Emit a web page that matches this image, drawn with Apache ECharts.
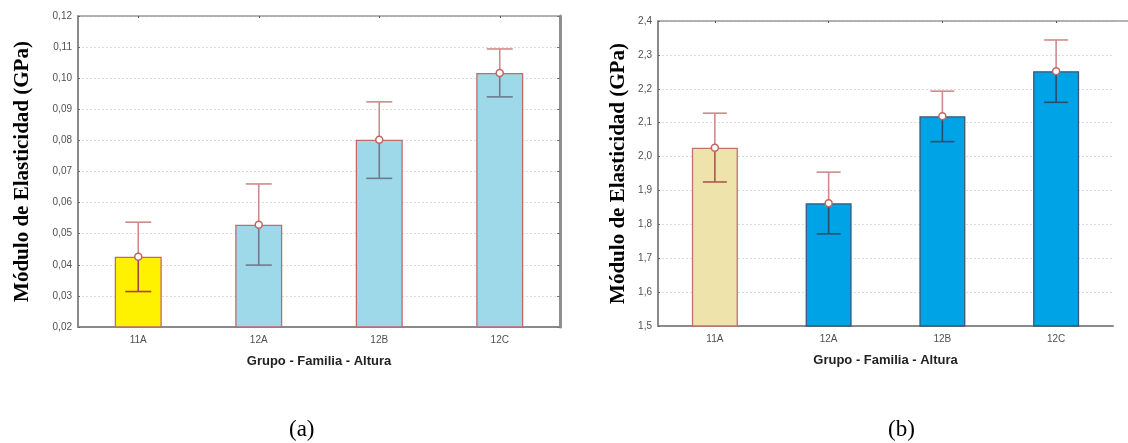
<!DOCTYPE html>
<html><head><meta charset="utf-8">
<script src="https://cdn.jsdelivr.net/npm/echarts@6/dist/echarts.min.js"></script>
<style>html,body{margin:0;padding:0;background:#fff}#c{width:1128px;height:443px}</style>
</head><body><div id="c"></div>
<script>
// ---- data ----
const categories = ['11A', '12A', '12B', '12C'];
const meanA = [0.0426, 0.0529, 0.0802, 0.1017];
const lowA  = [0.0314, 0.0399, 0.0678, 0.0940];
const highA = [0.0537, 0.0660, 0.0924, 0.1094];
const meanB = [2.026, 1.862, 2.119, 2.252];
const lowB  = [1.925, 1.772, 2.044, 2.160];
const highB = [2.128, 1.954, 2.193, 2.344];
const yTitle = 'Módulo de Elasticidad (GPa)';
const xTitle = 'Grupo - Familia - Altura';

// ---- styles ----
const fillA = ['#fff200', '#9ed9e9', '#9ed9e9', '#9ed9e9'];
const borderA = ['#c26a6a', '#c26a6a', '#c26a6a', '#c26a6a'];
const lowerA = ['#a8443a', '#6f7c8a', '#6f7c8a', '#6f7c8a'];
const fillB = ['#eee3ab', '#00a3e6', '#00a3e6', '#00a3e6'];
const borderB = ['#c27070', '#3d5577', '#3d5577', '#3d5577'];
const lowerB = ['#a85a50', '#2b4c70', '#2b4c70', '#2b4c70'];
const upperColor = '#cf8b8b';
const gridA = { left: 78, top: 16, width: 482, height: 311 };
const gridB = { left: 658, top: 21, width: 455, height: 305 };

const chart = echarts.init(document.getElementById('c'));

function errSeries(xi, yi, low, mean, high, lower, capW) {
  return {
    type: 'custom', xAxisIndex: xi, yAxisIndex: yi, z: 5,
    data: categories.map((c, i) => [i, low[i], mean[i], high[i]]),
    renderItem: function (params, api) {
      const i = api.value(0);
      const pL = api.coord([i, api.value(1)]);
      const pM = api.coord([i, api.value(2)]);
      const pH = api.coord([i, api.value(3)]);
      const x = pM[0], h = capW / 2;
      const up = { stroke: upperColor, lineWidth: 1.6 };
      const lo = { stroke: lower[i], lineWidth: 1.6 };
      return { type: 'group', children: [
        { type: 'line', shape: { x1: x, y1: pH[1], x2: x, y2: pM[1] }, style: up },
        { type: 'line', shape: { x1: x - h, y1: pH[1], x2: x + h, y2: pH[1] }, style: up },
        { type: 'line', shape: { x1: x, y1: pM[1], x2: x, y2: pL[1] }, style: lo },
        { type: 'line', shape: { x1: x - h, y1: pL[1], x2: x + h, y2: pL[1] }, style: lo }
      ]};
    }
  };
}

const labelStyle = { color: '#505050', fontFamily: 'Liberation Sans, Arial', fontSize: 10 };
const gridLine = { show: true, lineStyle: { color: '#dcdcdc', type: [2, 2], width: 1 } };

function xAxes(gi, nameGap) {
  return [
    { type: 'category', gridIndex: gi, data: categories, position: 'bottom',
      axisLine: { lineStyle: { color: '#8a8a8a', width: 2 } },
      axisTick: { show: true, alignWithLabel: true, inside: true, length: 2, lineStyle: { color: '#555' } },
      axisLabel: Object.assign({ margin: 8 }, labelStyle),
      name: xTitle, nameLocation: 'middle', nameGap: nameGap,
      nameTextStyle: { fontFamily: 'Liberation Sans, Arial', fontWeight: 'bold', fontSize: 13, color: '#222' } },
    { type: 'category', gridIndex: gi, data: categories, position: 'top',
      axisLine: { lineStyle: { color: '#9a9a9a', width: 1.5 } },
      axisTick: { show: true, alignWithLabel: true, inside: true, length: 2, lineStyle: { color: '#555' } },
      axisLabel: { show: false } }
  ];
}

function yAxes(gi, min, max, interval, digits, nameGap, rightLine) {
  return [
    { type: 'value', gridIndex: gi, min: min, max: max, interval: interval,
      axisLine: { show: true, lineStyle: { color: '#8a8a8a', width: 2 } },
      axisTick: { show: true, inside: true, length: 2, lineStyle: { color: '#666' } },
      axisLabel: Object.assign({ margin: 6, formatter: v => v.toFixed(digits).replace('.', ',') }, labelStyle),
      splitLine: gridLine,
      name: yTitle, nameLocation: 'middle', nameGap: nameGap, nameRotate: 90,
      nameTextStyle: { fontFamily: 'Liberation Serif, Times New Roman', fontWeight: 'bold', fontSize: 21, color: '#000' } },
    { type: 'value', gridIndex: gi, min: min, max: max, interval: interval, position: 'right',
      axisLine: { show: rightLine, lineStyle: { color: '#8f8f8f', width: 3 } },
      axisTick: { show: rightLine, inside: true, length: 3, lineStyle: { color: '#777' } },
      axisLabel: { show: false }, splitLine: { show: false } }
  ];
}

function bars(xi, yi, mean, fill, border, w) {
  return { type: 'bar', xAxisIndex: xi, yAxisIndex: yi, barWidth: w,
    data: mean.map((v, i) => ({ value: v, itemStyle: { color: fill[i], borderColor: border[i], borderWidth: 1.3 } })),
    z: 2, animation: false };
}
function marks(xi, yi, mean) {
  return { type: 'scatter', xAxisIndex: xi, yAxisIndex: yi, data: mean.map((v, i) => [i, v]),
    symbol: 'circle', symbolSize: 7, z: 10,
    itemStyle: { color: '#fff', borderColor: '#c06464', borderWidth: 1.5, opacity: 1 } };
}

const capFont = { fontFamily: 'Liberation Serif, Times New Roman', fontWeight: 'normal', fontSize: 23, color: '#000' };

chart.setOption({
  animation: false,
  grid: [gridA, gridB],
  xAxis: [].concat(xAxes(0, 28), xAxes(1, 28)),
  yAxis: [].concat(yAxes(0, 0.02, 0.12, 0.01, 2, 45, true), yAxes(1, 1.5, 2.4, 0.1, 1, 29, false)),
  title: [
    { text: '(a)', left: 284, top: 413, textStyle: capFont },
    { text: '(b)', left: 883, top: 413, textStyle: capFont }
  ],
  graphic: [
    { type: 'line', z: 1, shape: { x1: gridB.left + gridB.width, y1: gridB.top, x2: 1128, y2: gridB.top },
      style: { stroke: '#9a9a9a', lineWidth: 1.5 } }
  ],
  series: [
    bars(0, 0, meanA, fillA, borderA, 47),
    errSeries(0, 0, lowA, meanA, highA, lowerA, 26),
    marks(0, 0, meanA),
    bars(2, 2, meanB, fillB, borderB, 46),
    errSeries(2, 2, lowB, meanB, highB, lowerB, 24),
    marks(2, 2, meanB)
  ]
});
</script></body></html>
